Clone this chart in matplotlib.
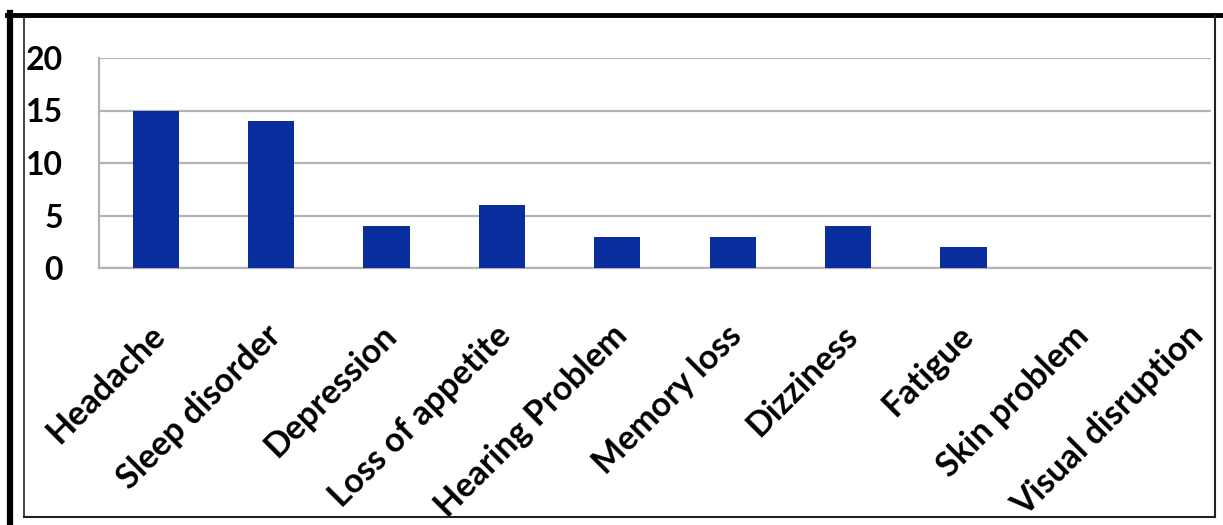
import matplotlib
matplotlib.use("Agg")
import matplotlib.pyplot as plt
import matplotlib.transforms as mtransforms
from matplotlib.lines import Line2D

categories = ["Headache", "Sleep disorder", "Depression", "Loss of appetite",
              "Hearing Problem", "Memory loss", "Dizziness", "Fatigue",
              "Skin problem", "Visual disruption"]
counts = [15, 14, 4, 6, 3, 3, 4, 2, 0, 0]
y_ticks = [0, 5, 10, 15, 20]

W, H = 1223, 525
fig = plt.figure(figsize=(W / 100, H / 100), dpi=100)
fig.patch.set_facecolor("white")

# plot area in pixel terms
left, right, top, bottom = 99, 1211, 58, 268
slot_px = 115.4          # horizontal spacing of one category
ax = fig.add_axes([left / W, 1 - bottom / H, (right - left) / W, (bottom - top) / H])

label_font = dict(family="Lato", weight="bold")

x = list(range(len(categories)))
ax.bar(x, counts, width=0.40, color="#0a2d9e", zorder=3)
x0 = -0.5 + 1 / slot_px
ax.set_xlim(x0, x0 + (right - left) / slot_px)
ax.set_ylim(0, 20)
ax.set_yticks(y_ticks)
ax.set_yticklabels([str(t) for t in y_ticks], fontsize=23, **label_font)
ax.set_xticks(x)
ax.set_xticklabels(categories, rotation=45, ha="right", rotation_mode="anchor",
                   fontsize=24.5, **label_font)
ax.tick_params(axis="y", length=0, pad=26)
ax.tick_params(axis="x", length=0, pad=37)
shift = mtransforms.ScaledTranslation(-7 / 100, 0, fig.dpi_scale_trans)
for lbl in ax.get_xticklabels():
    lbl.set_transform(lbl.get_transform() + shift)
ax.grid(axis="y", color="#b4b4b4", linewidth=1.6, zorder=0)
for s in ["top", "right"]:
    ax.spines[s].set_visible(False)
ax.spines["left"].set_color("#b4b4b4")
ax.spines["left"].set_linewidth(1.6)
ax.spines["bottom"].set_color("#b4b4b4")
ax.spines["bottom"].set_linewidth(1.6)


def fx(px):
    return px / W


def fy(py):
    return 1 - py / H


# outer frame: heavy black strokes on top and left, thin frame inside
fig.add_artist(Line2D([fx(7), fx(W)], [fy(15), fy(15)], color="black", linewidth=3.5))
fig.add_artist(Line2D([fx(9.5), fx(9.5)], [fy(13), fy(H)], color="black", linewidth=4.5))
fig.add_artist(Line2D([fx(24), fx(24)], [fy(16), fy(517)], color="#222222", linewidth=1.2))
fig.add_artist(Line2D([fx(24), fx(1215)], [fy(517), fy(517)], color="#222222", linewidth=1.5))
fig.add_artist(Line2D([fx(1215), fx(1215)], [fy(16), fy(517)], color="#222222", linewidth=1.5))

fig.savefig("out.png", dpi=100)
